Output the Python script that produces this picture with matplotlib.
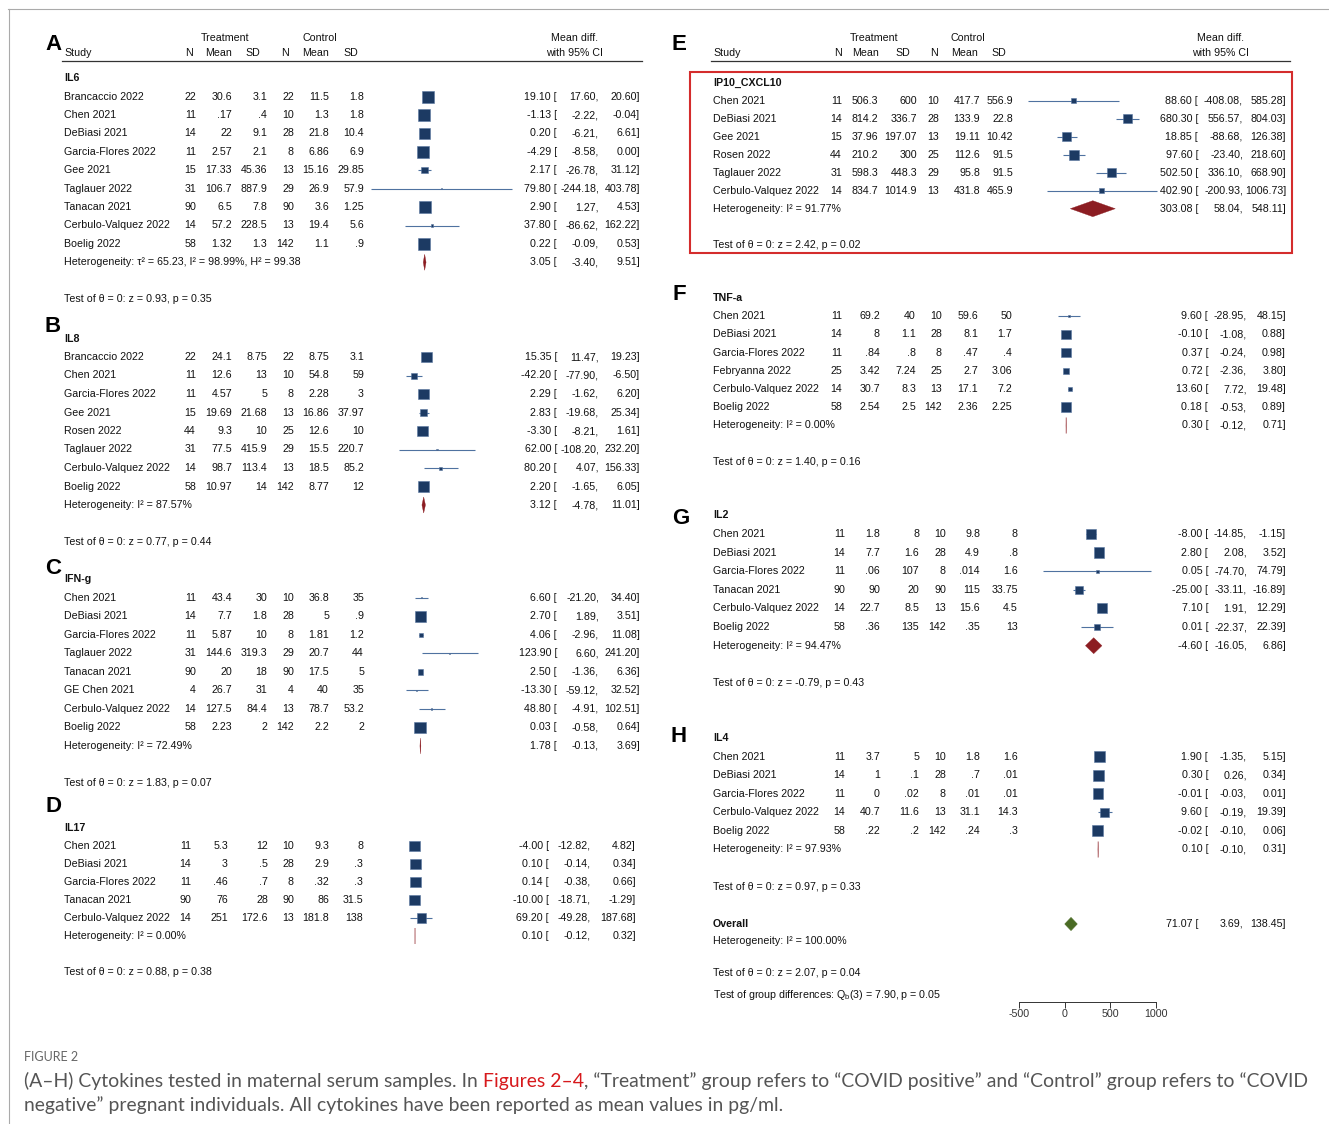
import numpy as np
import matplotlib
matplotlib.use('Agg')
import matplotlib.pyplot as plt
from matplotlib.transforms import blended_transform_factory
from matplotlib.patches import Polygon, Rectangle
from matplotlib.lines import Line2D

plt.rcParams['font.family'] = ['Liberation Sans', 'DejaVu Sans']
plt.rcParams['mathtext.fontset'] = 'custom'
plt.rcParams['mathtext.rm'] = 'Liberation Sans'

W, H = 1329, 1124

# ---------------- data ----------------
# weights only drive the marker size (side ~ 3*sqrt(w) px)
IL6_STUDY = ['Brancaccio 2022', 'Chen 2021', 'DeBiasi 2021', 'Garcia-Flores 2022', 'Gee 2021',
             'Taglauer 2022', 'Tanacan 2021', 'Cerbulo-Valquez 2022', 'Boelig 2022']
IL6_TRT = [('22', '30.6', '3.1'), ('11', '.17', '.4'), ('14', '22', '9.1'), ('11', '2.57', '2.1'),
           ('15', '17.33', '45.36'), ('31', '106.7', '887.9'), ('90', '6.5', '7.8'),
           ('14', '57.2', '228.5'), ('58', '1.32', '1.3')]
IL6_CTL = [('22', '11.5', '1.8'), ('10', '1.3', '1.8'), ('28', '21.8', '10.4'), ('8', '6.86', '6.9'),
           ('13', '15.16', '29.85'), ('29', '26.9', '57.9'), ('90', '3.6', '1.25'),
           ('13', '19.4', '5.6'), ('142', '1.1', '.9')]
IL6_MD = [19.10, -1.13, 0.20, -4.29, 2.17, 79.80, 2.90, 37.80, 0.22]
IL6_LO = [17.60, -2.22, -6.21, -8.58, -26.78, -244.18, 1.27, -86.62, -0.09]
IL6_HI = [20.60, -0.04, 6.61, 0.00, 31.12, 403.78, 4.53, 162.22, 0.53]
IL6_W = [16, 16, 13.4, 16, 4.5, 0.25, 16, 0.7, 16]
IL6_POOL = (3.05, -3.40, 9.51)
IL6_HET = 'τ² = 65.23, I² = 98.99%, H² = 99.38'
IL6_TEST = 'z = 0.93, p = 0.35'

IL8_STUDY = ['Brancaccio 2022', 'Chen 2021', 'Garcia-Flores 2022', 'Gee 2021', 'Rosen 2022',
             'Taglauer 2022', 'Cerbulo-Valquez 2022', 'Boelig 2022']
IL8_TRT = [('22', '24.1', '8.75'), ('11', '12.6', '13'), ('11', '4.57', '5'), ('15', '19.69', '21.68'),
           ('44', '9.3', '10'), ('31', '77.5', '415.9'), ('14', '98.7', '113.4'), ('58', '10.97', '14')]
IL8_CTL = [('22', '8.75', '3.1'), ('10', '54.8', '59'), ('8', '2.28', '3'), ('13', '16.86', '37.97'),
           ('25', '12.6', '10'), ('29', '15.5', '220.7'), ('13', '18.5', '85.2'), ('142', '8.77', '12')]
IL8_MD = [15.35, -42.20, 2.29, 2.83, -3.30, 62.00, 80.20, 2.20]
IL8_LO = [11.47, -77.90, -1.62, -19.68, -8.21, -108.20, 4.07, -1.65]
IL8_HI = [19.23, -6.50, 6.20, 25.34, 1.61, 232.20, 156.33, 6.05]
IL8_W = [13.4, 4, 13.4, 5, 13.4, 0.25, 1, 13.4]
IL8_POOL = (3.12, -4.78, 11.01)
IL8_HET = 'I² = 87.57%'
IL8_TEST = 'z = 0.77, p = 0.44'

IFN_STUDY = ['Chen 2021', 'DeBiasi 2021', 'Garcia-Flores 2022', 'Taglauer 2022', 'Tanacan 2021',
             'GE Chen 2021', 'Cerbulo-Valquez 2022', 'Boelig 2022']
IFN_TRT = [('11', '43.4', '30'), ('14', '7.7', '1.8'), ('11', '5.87', '10'), ('31', '144.6', '319.3'),
           ('90', '20', '18'), ('4', '26.7', '31'), ('14', '127.5', '84.4'), ('58', '2.23', '2')]
IFN_CTL = [('10', '36.8', '35'), ('28', '5', '.9'), ('8', '1.81', '1.2'), ('29', '20.7', '44'),
           ('90', '17.5', '5'), ('4', '40', '35'), ('13', '78.7', '53.2'), ('142', '2.2', '2')]
IFN_MD = [6.60, 2.70, 4.06, 123.90, 2.50, -13.30, 48.80, 0.03]
IFN_LO = [-21.20, 1.89, -2.96, 6.60, -1.36, -59.12, -4.91, -0.58]
IFN_HI = [34.40, 3.51, 11.08, 241.20, 6.36, 32.52, 102.51, 0.64]
IFN_W = [0.25, 13.4, 1.8, 0.11, 3.4, 0.11, 0.25, 14.7]
IFN_POOL = (1.78, -0.13, 3.69)
IFN_HET = 'I² = 72.49%'
IFN_TEST = 'z = 1.83, p = 0.07'

IL17_STUDY = ['Chen 2021', 'DeBiasi 2021', 'Garcia-Flores 2022', 'Tanacan 2021', 'Cerbulo-Valquez 2022']
IL17_TRT = [('11', '5.3', '12'), ('14', '3', '.5'), ('11', '.46', '.7'), ('90', '76', '28'),
            ('14', '251', '172.6')]
IL17_CTL = [('10', '9.3', '8'), ('28', '2.9', '.3'), ('8', '.32', '.3'), ('90', '86', '31.5'),
            ('13', '181.8', '138')]
IL17_MD = [-4.00, 0.10, 0.14, -10.00, 69.20]
IL17_LO = [-12.82, -0.14, -0.38, -18.71, -49.28]
IL17_HI = [4.82, 0.34, 0.66, -1.29, 187.68]
IL17_W = [13.4, 13.4, 13.4, 13.4, 10]
IL17_POOL = (0.10, -0.12, 0.32)
IL17_HET = 'I² = 0.00%'
IL17_TEST = 'z = 0.88, p = 0.38'

IP10_STUDY = ['Chen 2021', 'DeBiasi 2021', 'Gee 2021', 'Rosen 2022', 'Taglauer 2022', 'Cerbulo-Valquez 2022']
IP10_TRT = [('11', '506.3', '600'), ('14', '814.2', '336.7'), ('15', '37.96', '197.07'),
            ('44', '210.2', '300'), ('31', '598.3', '448.3'), ('14', '834.7', '1014.9')]
IP10_CTL = [('10', '417.7', '556.9'), ('28', '133.9', '22.8'), ('13', '19.11', '10.42'),
            ('25', '112.6', '91.5'), ('29', '95.8', '91.5'), ('13', '431.8', '465.9')]
IP10_MD = [88.60, 680.30, 18.85, 97.60, 502.50, 402.90]
IP10_LO = [-408.08, 556.57, -88.68, -23.40, 336.10, -200.93]
IP10_HI = [585.28, 804.03, 126.38, 218.60, 668.90, 1006.73]
IP10_W = [2.8, 10, 10, 11.1, 9, 2.8]
IP10_POOL = (303.08, 58.04, 548.11)
IP10_HET = 'I² = 91.77%'
IP10_TEST = 'z = 2.42, p = 0.02'

TNF_STUDY = ['Chen 2021', 'DeBiasi 2021', 'Garcia-Flores 2022', 'Febryanna 2022', 'Cerbulo-Valquez 2022',
             'Boelig 2022']
TNF_TRT = [('11', '69.2', '40'), ('14', '8', '1.1'), ('11', '.84', '.8'), ('25', '3.42', '7.24'),
           ('14', '30.7', '8.3'), ('58', '2.54', '2.5')]
TNF_CTL = [('10', '59.6', '50'), ('28', '8.1', '1.7'), ('8', '.47', '.4'), ('25', '2.7', '3.06'),
           ('13', '17.1', '7.2'), ('142', '2.36', '2.25')]
TNF_MD = [9.60, -0.10, 0.37, 0.72, 13.60, 0.18]
TNF_LO = [-28.95, -1.08, -0.24, -2.36, 7.72, -0.53]
TNF_HI = [48.15, 0.88, 0.98, 3.80, 19.48, 0.89]
TNF_W = [0.25, 10, 11.1, 4, 1.4, 11.1]
TNF_POOL = (0.30, -0.12, 0.71)
TNF_HET = 'I² = 0.00%'
TNF_TEST = 'z = 1.40, p = 0.16'

IL2_STUDY = ['Chen 2021', 'DeBiasi 2021', 'Garcia-Flores 2022', 'Tanacan 2021', 'Cerbulo-Valquez 2022',
             'Boelig 2022']
IL2_TRT = [('11', '1.8', '8'), ('14', '7.7', '1.6'), ('11', '.06', '107'), ('90', '90', '20'),
           ('14', '22.7', '8.5'), ('58', '.36', '135')]
IL2_CTL = [('10', '9.8', '8'), ('28', '4.9', '.8'), ('8', '.014', '1.6'), ('90', '115', '33.75'),
           ('13', '15.6', '4.5'), ('142', '.35', '13')]
IL2_MD = [-8.00, 2.80, 0.05, -25.00, 7.10, 0.01]
IL2_LO = [-14.85, 2.08, -74.70, -33.11, 1.91, -22.37]
IL2_HI = [-1.15, 3.52, 74.79, -16.89, 12.29, 22.39]
IL2_W = [10, 12.3, 1, 7.1, 11.1, 3.4]
IL2_POOL = (-4.60, -16.05, 6.86)
IL2_HET = 'I² = 94.47%'
IL2_TEST = 'z = -0.79, p = 0.43'

IL4_STUDY = ['Chen 2021', 'DeBiasi 2021', 'Garcia-Flores 2022', 'Cerbulo-Valquez 2022', 'Boelig 2022']
IL4_TRT = [('11', '3.7', '5'), ('14', '1', '.1'), ('11', '0', '.02'), ('14', '40.7', '11.6'),
           ('58', '.22', '.2')]
IL4_CTL = [('10', '1.8', '1.6'), ('28', '.7', '.01'), ('8', '.01', '.01'), ('13', '31.1', '14.3'),
           ('142', '.24', '.3')]
IL4_MD = [1.90, 0.30, -0.01, 9.60, -0.02]
IL4_LO = [-1.35, 0.26, -0.03, -0.19, -0.10]
IL4_HI = [5.15, 0.34, 0.01, 19.39, 0.06]
IL4_W = [12.3, 13.4, 13.4, 9, 13.4]
IL4_POOL = (0.10, -0.10, 0.31)
IL4_HET = 'I² = 97.93%'
IL4_TEST = 'z = 0.97, p = 0.33'

OVERALL = (71.07, 3.69, 138.45)
OVERALL_HET = 'I² = 100.00%'
OVERALL_TEST = 'z = 2.07, p = 0.04'
GROUP_TEST = r'$\mathregular{Q_b}$(3) = 7.90, p = 0.05'
AXIS_TICKS = [-500, 0, 500, 1000]

# ---------------- styling / layout ----------------
FS = 7.7
TXT = '#111111'
SQ_C = '#1c3a63'
SQ_E = '#5a77a0'
CI_C = '#4f72a0'
DIA_C = '#8c1d22'
OV_C = '#4a6b24'

COLS_L = (196, 232, 267, 294, 329, 364)
COLS_D = (191, 228, 268, 294, 329, 363)
COLS_E = (842, 878, 917, 939, 980, 1013)
COLS_F = (842, 880, 916, 942, 978, 1012)
COLS_G = (845, 880, 919, 946, 980, 1018)
VALS_L = (557, 599, 640)
VALS_D = (549, 591, 636)
VALS_E = (1198, 1243, 1286)
VALS_F = (1208, 1247, 1286)

panels = [
    dict(letter='A', lxy=(53, 45), name='IL6', st=IL6_STUDY, trt=IL6_TRT, ctl=IL6_CTL, md=IL6_MD, lo=IL6_LO,
         hi=IL6_HI, w=IL6_W, pool=IL6_POOL, het=IL6_HET, test=IL6_TEST,
         x0=64, y0=96.7, yh=262.3, zero=424, scale=0.217, span=(300, 530), cols=COLS_L, vals=VALS_L),
    dict(letter='B', lxy=(53, 327), name='IL8', st=IL8_STUDY, trt=IL8_TRT, ctl=IL8_CTL, md=IL8_MD, lo=IL8_LO,
         hi=IL8_HI, w=IL8_W, pool=IL8_POOL, het=IL8_HET, test=IL8_TEST,
         x0=64, y0=357, yh=505, zero=423, scale=0.222, span=(300, 530), cols=COLS_L, vals=VALS_L),
    dict(letter='C', lxy=(53, 568), name='IFN-g', st=IFN_STUDY, trt=IFN_TRT, ctl=IFN_CTL, md=IFN_MD, lo=IFN_LO,
         hi=IFN_HI, w=IFN_W, pool=IFN_POOL, het=IFN_HET, test=IFN_TEST,
         x0=64, y0=597.7, yh=746, zero=420, scale=0.24, span=(300, 530), cols=COLS_L, vals=VALS_L),
    dict(letter='D', lxy=(53, 807), name='IL17', st=IL17_STUDY, trt=IL17_TRT, ctl=IL17_CTL, md=IL17_MD,
         lo=IL17_LO, hi=IL17_HI, w=IL17_W, pool=IL17_POOL, het=IL17_HET, test=IL17_TEST,
         x0=64, y0=846, yh=936, zero=415, scale=0.093, span=(300, 530), cols=COLS_D, vals=VALS_D),
    dict(letter='E', lxy=(679, 45), name='IP10_CXCL10', st=IP10_STUDY, trt=IP10_TRT, ctl=IP10_CTL, md=IP10_MD,
         lo=IP10_LO, hi=IP10_HI, w=IP10_W, pool=IP10_POOL, het=IP10_HET, test=IP10_TEST,
         x0=713, y0=100.7, yh=208.7, zero=1065, scale=0.0917, span=(940, 1230), cols=COLS_E, vals=VALS_E),
    dict(letter='F', lxy=(679, 295), name='TNF-a', st=TNF_STUDY, trt=TNF_TRT, ctl=TNF_CTL, md=TNF_MD,
         lo=TNF_LO, hi=TNF_HI, w=TNF_W, pool=TNF_POOL, het=TNF_HET, test=TNF_TEST,
         x0=713, y0=316, yh=425.5, zero=1066, scale=0.29, span=(940, 1230), cols=COLS_F, vals=VALS_F),
    dict(letter='G', lxy=(681, 518), name='IL2', st=IL2_STUDY, trt=IL2_TRT, ctl=IL2_CTL, md=IL2_MD,
         lo=IL2_LO, hi=IL2_HI, w=IL2_W, pool=IL2_POOL, het=IL2_HET, test=IL2_TEST,
         x0=713, y0=534, yh=645.7, zero=1097, scale=0.72, span=(940, 1230), cols=COLS_G, vals=VALS_F),
    dict(letter='H', lxy=(679, 736), name='IL4', st=IL4_STUDY, trt=IL4_TRT, ctl=IL4_CTL, md=IL4_MD,
         lo=IL4_LO, hi=IL4_HI, w=IL4_W, pool=IL4_POOL, het=IL4_HET, test=IL4_TEST,
         x0=713, y0=756.7, yh=849.5, zero=1098, scale=0.71, span=(940, 1230), cols=COLS_G, vals=VALS_F),
]

fig = plt.figure(figsize=(W / 100, H / 100), dpi=100)


def ptext(x, y, s, **kw):
    kw.setdefault('fontsize', FS)
    kw.setdefault('color', TXT)
    kw.setdefault('va', 'center')
    return fig.text(x / W, 1 - y / H, s, **kw)


def new_axes(span, top, bot):
    L, R = span
    return fig.add_axes([L / W, 1 - bot / H, (R - L) / W, (bot - top) / H])


def vals_text(t, x3, r, md, lo, hi, **kw):
    t(x3[0], r, '%.2f [' % md, ha='right', **kw)
    t(x3[1], r, '%.2f,' % lo, ha='right', **kw)
    t(x3[2], r, '%.2f]' % hi, ha='right', **kw)


def draw_panel(p):
    n = len(p['st'])
    dy = (p['yh'] - p['y0']) / n
    ax = new_axes(p['span'], p['y0'] - dy / 2, p['yh'] + dy / 2)
    L, R = p['span']
    ax.set_xlim((L - p['zero']) / p['scale'], (R - p['zero']) / p['scale'])
    ax.set_ylim(n + 0.5, -0.5)
    ax.axis('off')

    rows = np.arange(n)
    ax.hlines(rows, p['lo'], p['hi'], color=CI_C, lw=0.8, zorder=2)
    side = 3 * np.sqrt(np.array(p['w'], dtype=float))
    ax.scatter(p['md'], rows, s=(side * 0.72) ** 2, marker='s', c=SQ_C,
               edgecolors=SQ_E, linewidths=0.4, zorder=3)
    md, lo, hi = p['pool']
    hh = 8.0 / dy
    ax.add_patch(Polygon([[lo, n], [md, n - hh], [hi, n], [md, n + hh]], closed=True,
                         fc=DIA_C, ec=DIA_C, lw=0.25))

    tr = blended_transform_factory(fig.transFigure, ax.transData)

    def t(x, r, s, **kw):
        ax.text(x / W, r, s, transform=tr, va='center', fontsize=FS, color=TXT, **kw)

    t(p['x0'], -1, p['name'], fontweight='bold')
    for i in range(n):
        t(p['x0'], i, p['st'][i])
        cells = list(p['trt'][i]) + list(p['ctl'][i])
        for x, c in zip(p['cols'], cells):
            t(x, i, c, ha='right')
        vals_text(t, p['vals'], i, p['md'][i], p['lo'][i], p['hi'][i])
    t(p['x0'], n, 'Heterogeneity: ' + p['het'])
    vals_text(t, p['vals'], n, md, lo, hi)
    t(p['x0'], n + 2, 'Test of θ = 0: ' + p['test'])

    ptext(p['lxy'][0], p['lxy'][1], p['letter'], fontsize=16, fontweight='bold', ha='center', color='black')


# column headers
for xs, rule in (((225, 320, 575, 64, 189.5, 218.6, 252.8, 284.7, 315.7, 350.7), (62, 642)),
                 ((874, 968, 1221, 713, 838, 865.7, 902.4, 933.7, 964.7, 999.3), (711, 1290))):
    ptext(xs[0], 38, 'Treatment', ha='center')
    ptext(xs[1], 38, 'Control', ha='center')
    ptext(xs[2], 38, 'Mean diff.', ha='center')
    ptext(xs[2], 53, 'with 95% CI', ha='center')
    ptext(xs[3], 53, 'Study')
    for x, s in zip(xs[4:], ['N', 'Mean', 'SD', 'N', 'Mean', 'SD']):
        ptext(x, 53, s, ha='center')
    fig.add_artist(Line2D([rule[0] / W, rule[1] / W], [1 - 61 / H, 1 - 61 / H], color='#333333', lw=0.9))

for p in panels:
    draw_panel(p)

# highlight box around panel E
fig.add_artist(Rectangle((690 / W, 1 - 253 / H), (1292 - 690) / W, (253 - 72) / H,
                         transform=fig.transFigure, fill=False, ec='#d42c2c', lw=1.5))

# overall row + x axis
dy_o = 18.4
bot_rows = (1002 - 924) / dy_o
axo = new_axes((940, 1230), 924 - dy_o / 2, 1002)
axo.set_xlim((940 - 1064.5) / 0.0917, (1230 - 1064.5) / 0.0917)
axo.set_ylim(bot_rows, -0.5)
for s in ('top', 'right', 'left'):
    axo.spines[s].set_visible(False)
axo.spines['bottom'].set_bounds(AXIS_TICKS[0], AXIS_TICKS[-1])
axo.spines['bottom'].set_linewidth(0.7)
axo.spines['bottom'].set_color('#333333')
axo.set_yticks([])
axo.set_xticks(AXIS_TICKS)
axo.set_xticklabels([str(v) for v in AXIS_TICKS])
axo.tick_params(axis='x', length=4, width=0.7, pad=1.0, labelsize=FS, colors='#333333')
axo.patch.set_alpha(0)
omd, olo, ohi = OVERALL
ohh = 6.5 / dy_o
axo.add_patch(Polygon([[olo, 0], [omd, -ohh], [ohi, 0], [omd, ohh]], closed=True,
                      fc=OV_C, ec=OV_C, lw=0.5))
tro = blended_transform_factory(fig.transFigure, axo.transData)


def to(x, r, s, **kw):
    axo.text(x / W, r, s, transform=tro, va='center', fontsize=FS, color=TXT, **kw)


to(713, 0, 'Overall', fontweight='bold')
vals_text(to, VALS_E, 0, omd, olo, ohi)
ptext(713, 941, 'Heterogeneity: ' + OVERALL_HET)
ptext(713, 973.5, 'Test of θ = 0: ' + OVERALL_TEST)
ptext(713, 995, 'Test of group differences: ' + GROUP_TEST)

# frame lines of the page
fig.add_artist(Line2D([8 / W, 1], [1 - 8.5 / H, 1 - 8.5 / H], color='#aaaaaa', lw=0.8))
fig.add_artist(Line2D([8.5 / W, 8.5 / W], [0, 1 - 8.5 / H], color='#aaaaaa', lw=0.8))

# caption
CAP_FONT = ['Lato', 'DejaVu Sans']
ptext(24, 1057, 'FIGURE 2', fontsize=9, color='#666666', family=CAP_FONT)
seg1 = '(A\u2013H) Cytokines tested in maternal serum samples. In '
seg2 = 'Figures 2\u20134'
seg3 = ', \u201cTreatment\u201d group refers to \u201cCOVID positive\u201d and \u201cControl\u201d group refers to \u201cCOVID'
line2 = 'negative\u201d pregnant individuals. All cytokines have been reported as mean values in pg/ml.'

fig.canvas.draw()
rend = fig.canvas.get_renderer()
probe = ptext(24, 1081, seg1 + seg2 + seg3, fontsize=13, family=CAP_FONT)
wpx = probe.get_window_extent(rend).width
probe.remove()
cap_fs = 13 * (1306 - 24) / wpx

x = 24
for s, c in ((seg1, '#555555'), (seg2, '#d7191c'), (seg3, '#555555')):
    tt = ptext(x, 1081, s, fontsize=cap_fs, color=c, family=CAP_FONT)
    x = tt.get_window_extent(rend).x1
ptext(24, 1105, line2, fontsize=cap_fs, color='#555555', family=CAP_FONT)

fig.savefig('out.png', dpi=100)
